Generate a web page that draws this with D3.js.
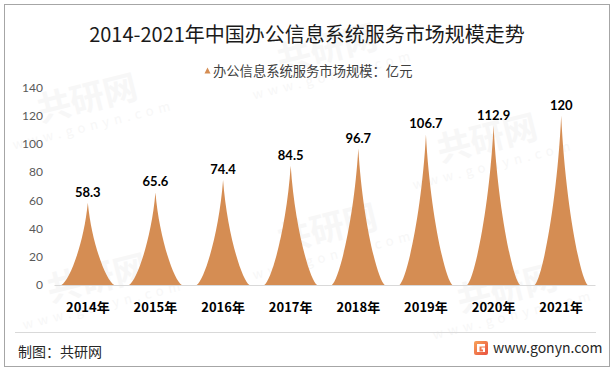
<!DOCTYPE html>
<html>
<head>
<meta charset="utf-8">
<script src="https://cdn.jsdelivr.net/npm/d3@7"></script>
<style>
  body { margin: 0; background: #fff; }
  text { font-family: "Noto Sans CJK SC", "Noto Sans", sans-serif; }
  .num { font-family: Lato, "Liberation Sans", sans-serif; }
</style>
</head>
<body>
<div id="chart"></div>
<script>
// Data
var years = ["2014年", "2015年", "2016年", "2017年", "2018年", "2019年", "2020年", "2021年"];
var marketSize = [58.3, 65.6, 74.4, 84.5, 96.7, 106.7, 112.9, 120];
var yTicks = [0, 20, 40, 60, 80, 100, 120, 140];

var title = "2014-2021年中国办公信息系统服务市场规模走势";
var legendLabel = "办公信息系统服务市场规模：亿元";
var peakColor = "#D58D53";

var width = 615, height = 373;

var svg = d3.select("#chart").append("svg")
  .attr("width", width)
  .attr("height", height);

// 1. Faint watermarks behind everything.
var marks = [[90, 110], [330, 60], [490, 150], [330, 240], [100, 290], [510, 300]];
marks.forEach(function (m) {
  var g = svg.append("g")
    .attr("transform", "translate(" + m[0] + "," + m[1] + ")rotate(-14)")
    .attr("fill", "#F7F7F7");
  g.append("text").attr("text-anchor", "middle")
    .attr("font-size", 34).attr("font-weight", "bold").text("共研网");
  g.append("text").attr("text-anchor", "middle").attr("y", 20)
    .attr("font-size", 13).attr("letter-spacing", 5).text("www.gonyn.com");
});

// 2. Outer border.
svg.append("rect")
  .attr("x", 4.5).attr("y", 4.5)
  .attr("width", 605).attr("height", 362)
  .attr("fill", "none")
  .attr("stroke", "#A6A6A6");

// 3. Scales.
var xScale = d3.scaleBand()
  .domain(years)
  .range([54, 595])
  .paddingInner(0.22)
  .paddingOuter(0.11);
var yScale = d3.scaleLinear()
  .domain([0, 140])
  .range([285, 87.5]);

// 4. Title and legend.
svg.append("text")
  .attr("x", 307).attr("y", 42)
  .attr("text-anchor", "middle")
  .attr("font-size", 20)
  .attr("fill", "#1a1a1a")
  .text(title);

svg.append("path")
  .attr("d", "M207.5,67.5 L210.5,73.5 L204.5,73.5 Z")
  .attr("fill", peakColor);
svg.append("text")
  .attr("x", 213).attr("y", 76)
  .attr("font-size", 13.3)
  .attr("fill", "#404040")
  .text(legendLabel);

// 5. Y axis (labels only).
var yAxis = d3.axisLeft(yScale).tickValues(yTicks).tickSize(0).tickPadding(0);
var yG = svg.append("g")
  .attr("transform", "translate(43,0)")
  .call(yAxis);
yG.select(".domain").remove();
yG.selectAll("text")
  .attr("class", "num")
  .attr("font-size", 12)
  .attr("fill", "#595959");

// 6. Pointed peaks.
function peakPath(d, i) {
  var cx = xScale(years[i]) + xScale.bandwidth() / 2;
  var hw = xScale.bandwidth() / 2;
  var y0 = yScale(0), y1 = yScale(d);
  var h = y0 - y1;
  var p = d3.path();
  p.moveTo(cx - hw, y0);
  p.bezierCurveTo(cx - 0.7 * hw, y0 - 0.05 * h, cx - 0.15 * hw, y0 - 0.5 * h, cx, y1);
  p.bezierCurveTo(cx + 0.15 * hw, y0 - 0.5 * h, cx + 0.7 * hw, y0 - 0.05 * h, cx + hw, y0);
  p.closePath();
  return p.toString();
}

svg.append("g").selectAll("path")
  .data(marketSize)
  .enter().append("path")
  .attr("d", peakPath)
  .attr("fill", peakColor);

// 7. Baseline and x labels.
var xAxis = d3.axisBottom(xScale).tickSize(0).tickPadding(0);
var xG = svg.append("g")
  .attr("transform", "translate(0," + yScale(0) + ")")
  .call(xAxis);
xG.select(".domain").attr("stroke", "#D9D9D9").attr("stroke-width", 1);
xG.selectAll("text")
  .attr("dy", 0)
  .attr("y", 27)
  .attr("font-size", 13)
  .attr("font-weight", "bold")
  .attr("fill", "#000");

// 8. Data labels.
svg.append("g").selectAll("text")
  .data(marketSize)
  .enter().append("text")
  .attr("class", "num")
  .attr("x", function (d, i) { return xScale(years[i]) + xScale.bandwidth() / 2; })
  .attr("y", function (d) { return yScale(d) - 6; })
  .attr("text-anchor", "middle")
  .attr("font-size", 13)
  .attr("font-weight", "bold")
  .attr("fill", "#000")
  .text(function (d) { return d; });

// 9. Footer.
svg.append("line")
  .attr("x1", 15).attr("x2", 596)
  .attr("y1", 332.5).attr("y2", 332.5)
  .attr("stroke", "#D9D9D9");

svg.append("text")
  .attr("x", 18).attr("y", 357)
  .attr("font-size", 14)
  .attr("fill", "#262626")
  .text("制图：共研网");

var logo = svg.append("g").attr("transform", "translate(474,341)");
var grad = svg.append("defs").append("linearGradient")
  .attr("id", "logoGrad").attr("x1", 0).attr("y1", 0).attr("x2", 1).attr("y2", 1);
grad.append("stop").attr("offset", "0%").attr("stop-color", "#F7A35A");
grad.append("stop").attr("offset", "100%").attr("stop-color", "#E9503F");
logo.append("rect")
  .attr("width", 14).attr("height", 14).attr("rx", 2)
  .attr("fill", "url(#logoGrad)");
logo.append("path")
  .attr("d", "M3,3 H11 V5.5 H5.5 V10.5 H9 V8.5 H7.5 V6.5 H11 V11 H3 Z")
  .attr("fill", "#fff");

svg.append("text")
  .attr("x", 493).attr("y", 353)
  .attr("font-size", 14)
  .attr("font-family", "\"Open Sans\", sans-serif")
  .attr("fill", "#262626")
  .text("www.gonyn.com");
</script>
</body>
</html>
